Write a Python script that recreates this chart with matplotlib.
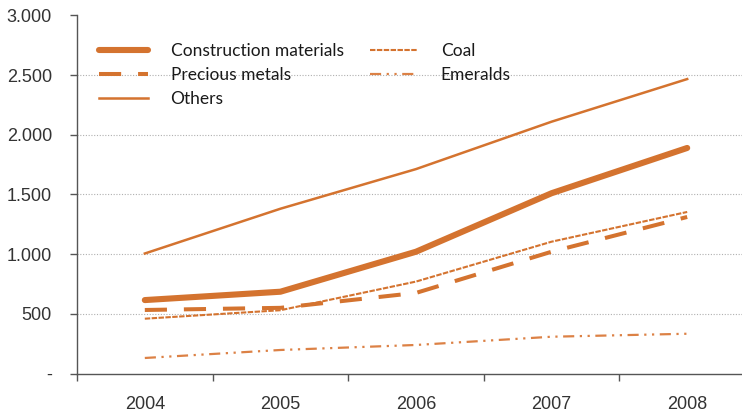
import numpy as np
import matplotlib.pyplot as plt
from matplotlib.ticker import FuncFormatter

plt.rcParams['font.family'] = 'Liberation Sans'

# values
years = ['2004', '2005', '2006', '2007', '2008']
construction = [615, 685, 1020, 1510, 1889]
precious = [532, 550, 675, 1020, 1311]
others = [1005, 1380, 1712, 2109, 2466]
coal = [459, 530, 770, 1104, 1353]
emeralds = [130, 197, 239, 308, 333]

orange = '#d4732f'
light = '#dc8145'

fig = plt.figure(figsize=(7.42, 4.17), dpi=100)
ax = fig.add_axes([0.1038, 0.1043, 0.9137, 0.859])

x = np.arange(len(years))
l_con, = ax.plot(x, construction, color=orange, lw=4.4, solid_capstyle='round',
                 label='Construction materials')
l_pre, = ax.plot(x, precious, color=orange, lw=2.9, dashes=(5.5, 4.2),
                 label='Precious metals')
l_oth, = ax.plot(x, others, color=orange, lw=1.8, label='Others')
l_coal, = ax.plot(x, coal, color=orange, lw=1.5, dashes=(2.6, 0.7), label='Coal')
l_eme, = ax.plot(x, emeralds, color=light, lw=1.6,
                 dashes=(5, 2.5, 1, 2.5, 1, 2.5), label='Emeralds')

ax.set_xlim(-0.5, len(years) - 0.5)
ax.set_ylim(0, 3000)

# category axis: ticks between years, labels in the middle
ax.set_xticks(np.arange(-0.5, len(years), 1.0))
ax.set_xticklabels([])
ax.set_xticks(x, minor=True)
ax.set_xticklabels(years, minor=True)
ax.tick_params(axis='x', which='major', direction='out', length=5, width=1, color='#555555')
ax.tick_params(axis='x', which='minor', length=0, pad=16, labelsize=13, labelcolor='#333333')

ax.set_yticks(np.arange(0, 3001, 500))
ax.yaxis.set_major_formatter(FuncFormatter(
    lambda v, p: '-' if v == 0 else f'{int(v):,}'.replace(',', '.')))
ax.tick_params(axis='y', direction='out', length=5, width=1, color='#555555',
               labelsize=13, labelcolor='#333333', pad=13)

for v in range(500, 3000, 500):
    ax.axhline(v, color='#b0b0b0', lw=0.8, ls=(0, (1, 1.5)), zorder=0)

for s in ['top', 'right']:
    ax.spines[s].set_visible(False)
for s in ['left', 'bottom']:
    ax.spines[s].set_color('#555555')
    ax.spines[s].set_linewidth(1)

leg = ax.legend(handles=[l_con, l_pre, l_oth, l_coal, l_eme], ncol=2, frameon=False,
                loc='upper left', bbox_to_anchor=(0.01, 0.965), handlelength=2.8,
                handletextpad=1.3, columnspacing=1.5, labelspacing=0.45,
                prop={'family': 'Lato', 'size': 12.5})
for t in leg.get_texts():
    t.set_color('#1a1a1a')

fig.savefig('out.png', dpi=100)
